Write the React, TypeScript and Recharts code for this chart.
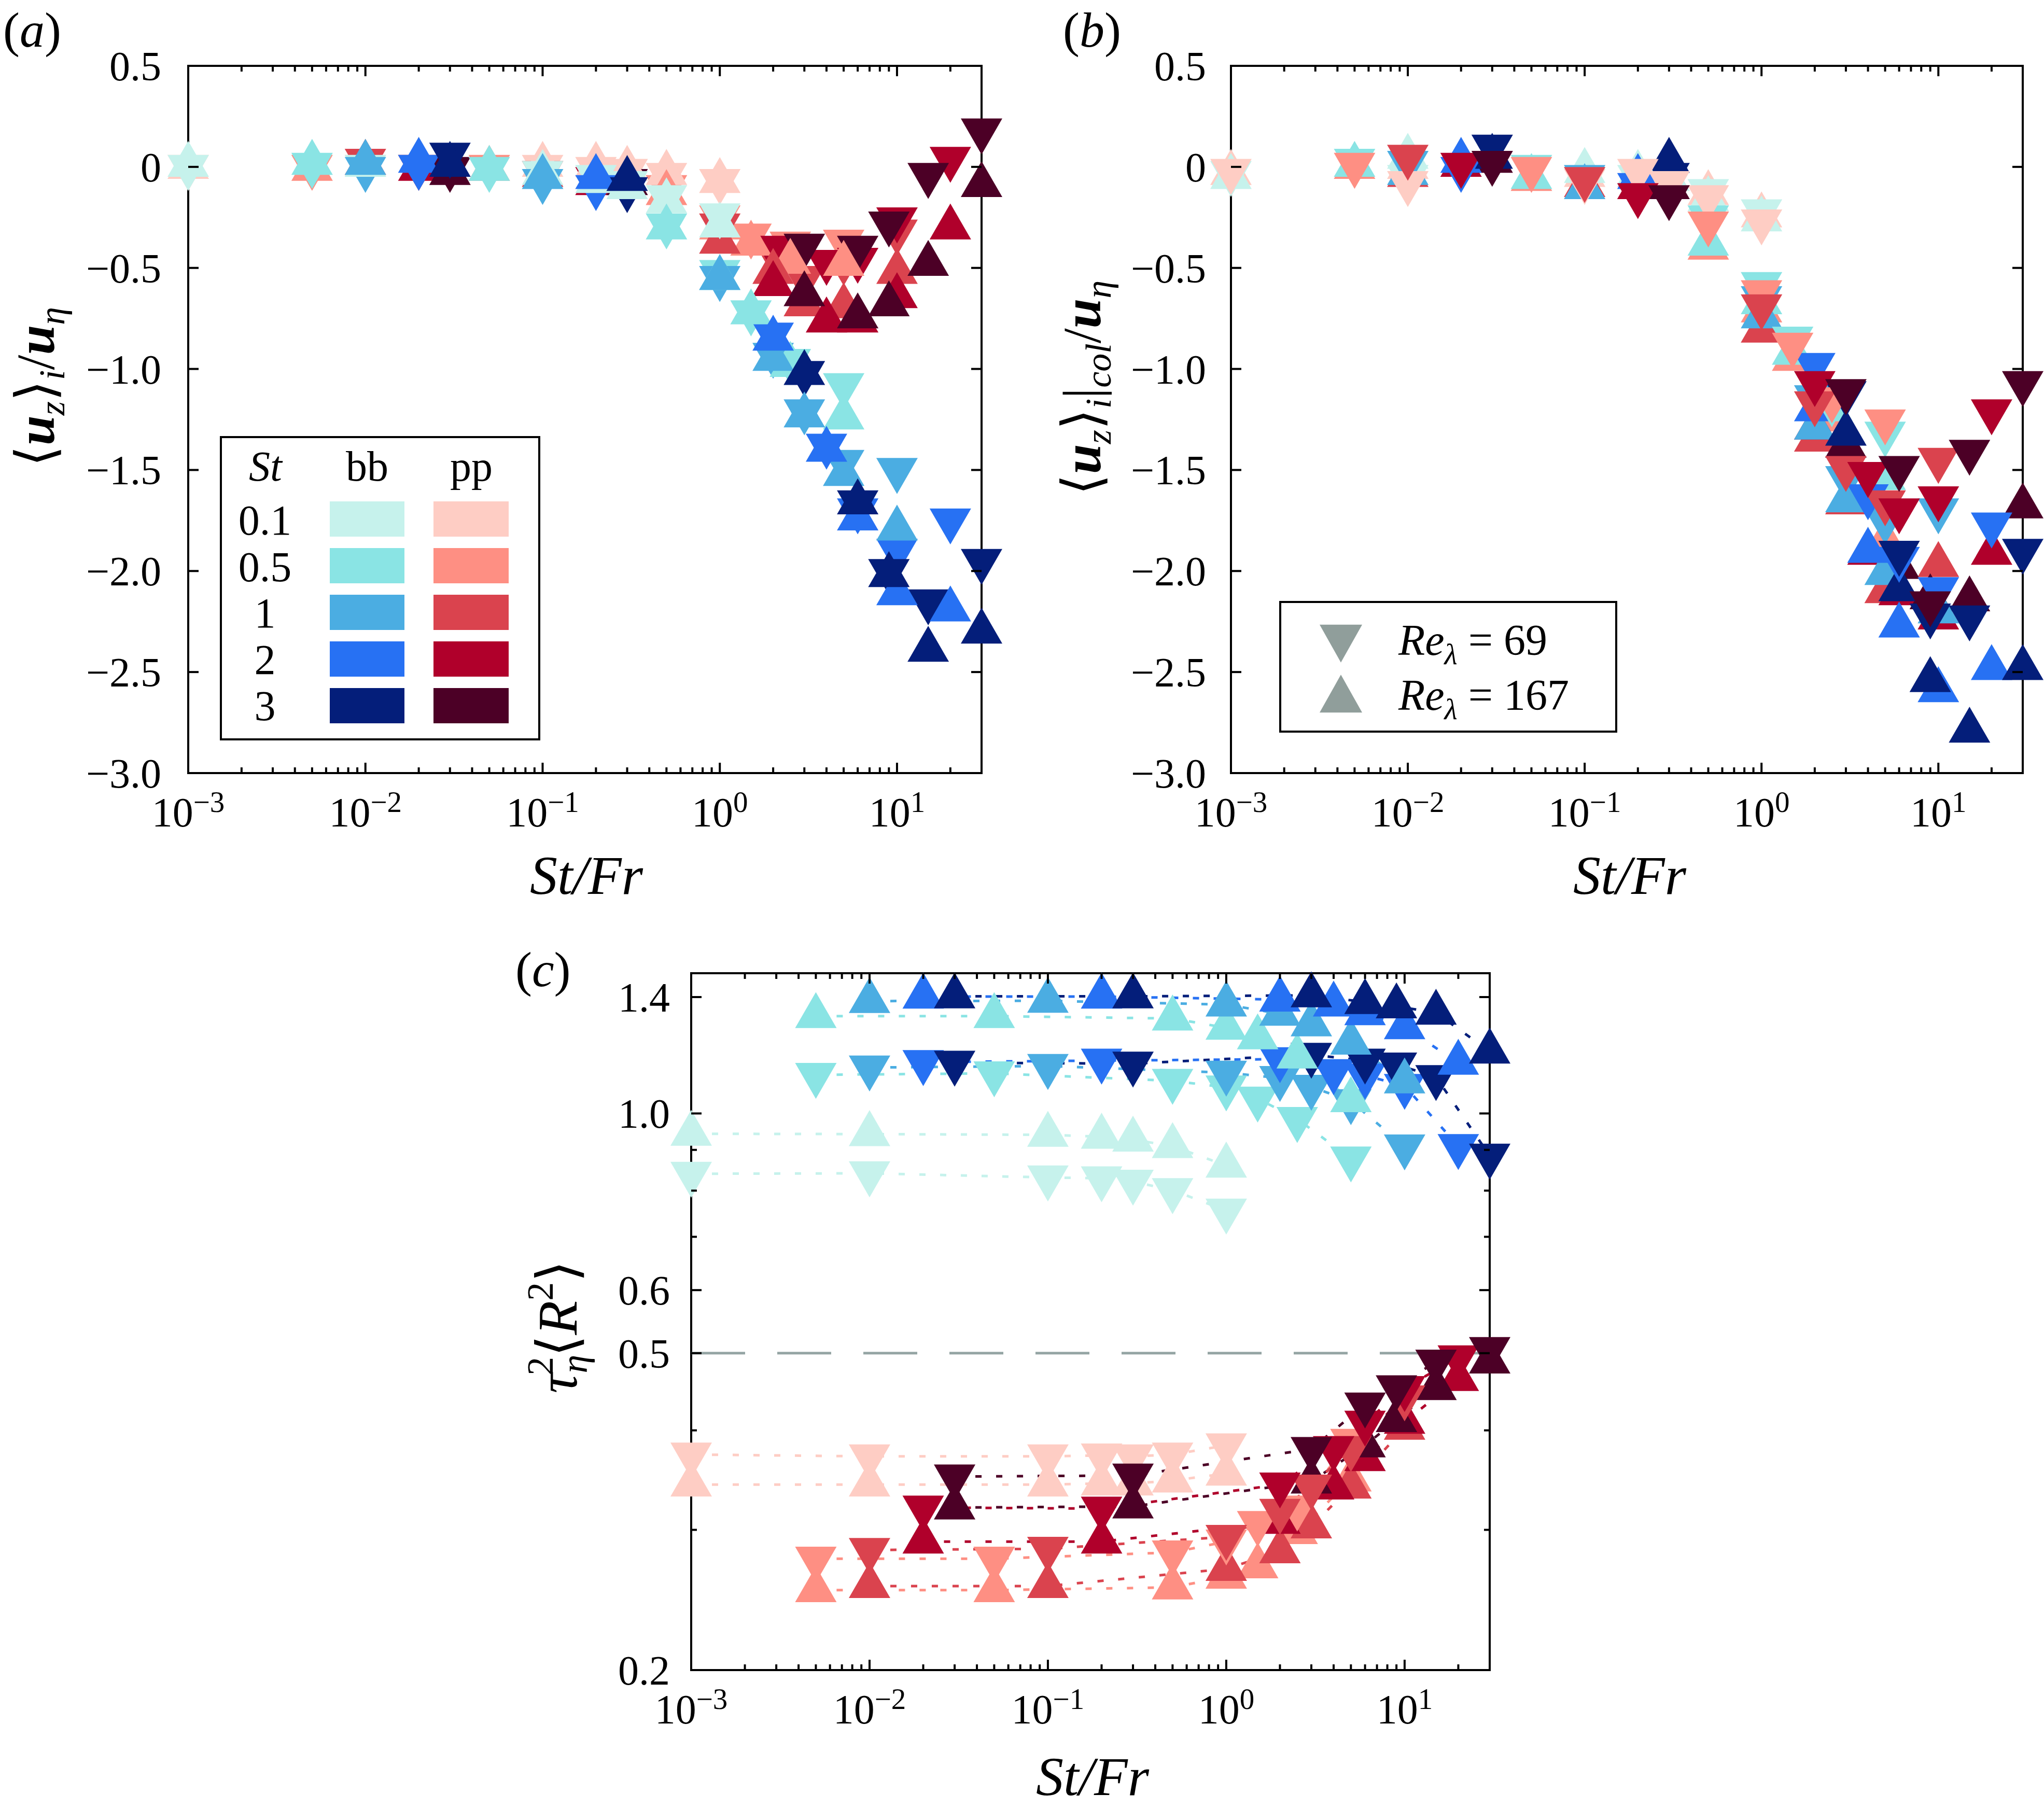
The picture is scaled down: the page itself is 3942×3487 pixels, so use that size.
import React from 'react';
import { ScatterChart, Scatter, XAxis, YAxis, ReferenceArea, ReferenceLine } from 'recharts';

const FONT = '"Liberation Serif", "Times New Roman", serif';

// ---------- categories / colours ----------
const ST_LABELS = ['0.1', '0.5', '1', '2', '3'];
const BB_COLORS = ['#C6F2EC', '#8AE4E4', '#4BADE2', '#2771F3', '#041E7A'];
const PP_COLORS = ['#FECDC4', '#FE8F83', '#DA434E', '#B0002B', '#4C0026'];
const GRAY = '#909E9B';

// St/Fr values for each St (Fr = 100, 10, 1, 0.5, 1/3, 0.2, 0.1)
const X_ST01 = [0.001, 0.01, 0.1, 0.2, 0.3, 0.5, 1];
const X_ST05 = [0.005, 0.05, 0.5, 1, 1.5, 2.5, 5];
const X_ST1 = [0.01, 0.1, 1, 2, 3, 5, 10];
const X_ST2 = [0.02, 0.2, 2, 4, 6, 10, 20];
const X_ST3 = [0.03, 0.3, 3, 6, 9, 15, 30];

// ---------- panel (a): <u_z>_i / u_eta ----------
const A_BB69_ST01 = [0.0, 0.0, -0.03, -0.05, -0.08, -0.15, -0.24];
const A_BB167_ST01 = [0.01, 0.01, -0.03, -0.07, -0.1, -0.17, -0.29];
const A_PP69_ST01 = [0.0, 0.0, 0.0, -0.01, -0.02, -0.04, -0.07];
const A_PP167_ST01 = [0.0, 0.01, 0.01, 0.01, -0.01, -0.03, -0.07];
const A_BB69_ST05 = [0.01, -0.01, -0.29, -0.52, -0.72, -0.96, -1.08];
const A_BB167_ST05 = [0.02, -0.01, -0.3, -0.55, -0.72, -0.98, -1.24];
const A_PP69_ST05 = [0.0, 0.0, -0.1, -0.25, -0.34, -0.38, -0.37];
const A_PP167_ST05 = [-0.01, -0.01, -0.13, -0.3, -0.38, -0.47, -0.48];
const A_BB69_ST1 = [-0.01, -0.07, -0.55, -0.93, -1.21, -1.46, -1.5];
const A_BB167_ST1 = [0.02, -0.05, -0.55, -0.95, -1.23, -1.52, -1.79];
const A_PP69_ST1 = [0.03, -0.03, -0.29, -0.42, -0.55, -0.47, -0.32];
const A_PP167_ST1 = [0.02, -0.04, -0.37, -0.52, -0.68, -0.69, -0.52];
const A_BB69_ST2 = [0.0, -0.1, -0.83, -1.38, -1.7, -1.9, -1.75];
const A_BB167_ST2 = [0.03, -0.05, -0.85, -1.4, -1.74, -2.11, -2.19];
const A_PP69_ST2 = [0.0, -0.06, -0.4, -0.47, -0.46, -0.26, 0.04];
const A_PP167_ST2 = [-0.01, -0.08, -0.58, -0.76, -0.76, -0.64, -0.3];
const A_BB69_ST3 = [0.06, -0.11, -1.02, -1.66, -2.0, -2.15, -1.95];
const A_BB167_ST3 = [0.01, -0.06, -1.02, -1.66, -2.02, -2.39, -2.3];
const A_PP69_ST3 = [-0.01, -0.07, -0.39, -0.4, -0.28, -0.04, 0.18];
const A_PP167_ST3 = [-0.03, -0.08, -0.63, -0.74, -0.68, -0.48, -0.09];

// ---------- panel (b): <u_z>_i|col / u_eta ----------
const B_BB69_ST01 = [-0.03, -0.05, -0.06, -0.05, -0.08, -0.12, -0.22];
const B_BB167_ST01 = [-0.05, 0.05, -0.02, -0.03, -0.06, -0.16, -0.26];
const B_PP69_ST01 = [-0.02, -0.08, -0.07, -0.02, -0.08, -0.15, -0.27];
const B_PP167_ST01 = [-0.03, 0.0, -0.04, -0.04, -0.06, -0.13, -0.24];
const B_BB69_ST05 = [0.03, 0.0, -0.25, -0.58, -0.85, -1.17, -1.32];
const B_BB167_ST05 = [0.01, -0.05, -0.38, -0.67, -0.92, -1.2, -1.54];
const B_PP69_ST05 = [0.01, -0.01, -0.28, -0.62, -0.88, -1.15, -1.26];
const B_PP167_ST05 = [0.0, -0.06, -0.4, -0.71, -0.95, -1.25, -1.85];
const B_BB69_ST1 = [0.02, -0.05, -0.65, -1.14, -1.54, -1.75, -1.7];
const B_BB167_ST1 = [-0.03, -0.1, -0.74, -1.29, -1.65, -2.01, -2.2];
const B_PP69_ST1 = [0.05, -0.06, -0.69, -1.17, -1.49, -1.66, -1.45];
const B_PP167_ST1 = [-0.04, -0.09, -0.81, -1.35, -1.66, -2.1, -1.97];
const B_BB69_ST2 = [-0.01, -0.09, -0.98, -1.63, -1.94, -2.09, -1.77];
const B_BB167_ST2 = [0.03, -0.05, -1.2, -1.9, -2.27, -2.59, -2.48];
const B_PP69_ST2 = [0.01, -0.14, -1.07, -1.52, -1.7, -1.64, -1.21];
const B_PP167_ST2 = [0.01, -0.1, -1.29, -1.91, -2.11, -2.23, -1.91];
const B_BB69_ST3 = [0.1, -0.04, -1.12, -1.91, -2.22, -2.23, -1.9];
const B_BB167_ST3 = [0.05, 0.03, -1.32, -2.09, -2.54, -2.79, -2.48];
const B_PP69_ST3 = [0.02, -0.15, -1.11, -1.49, -2.16, -1.41, -1.07];
const B_PP167_ST3 = [0.03, -0.1, -1.38, -1.98, -2.13, -2.14, -1.68];

// ---------- panel (c): tau_eta^2 <R^2> ----------
const C_BB69_ST01 = [0.84, 0.841, 0.831, 0.829, 0.821, 0.801, 0.755];
const C_BB167_ST01 = [0.943, 0.942, 0.94, 0.935, 0.927, 0.91, 0.86];
const C_PP69_ST01 = [0.373, 0.371, 0.371, 0.372, 0.371, 0.373, 0.383];
const C_PP167_ST01 = [0.342, 0.342, 0.342, 0.343, 0.343, 0.346, 0.353];
const C_BB69_ST05 = [1.118, 1.123, 1.099, 1.078, 1.044, 0.984, 0.878];
const C_BB167_ST05 = [1.325, 1.325, 1.316, 1.281, 1.246, 1.179, 1.039];
const C_PP69_ST05 = [0.276, 0.276, 0.281, 0.29, 0.306, 0.32, 0.388];
const C_PP167_ST05 = [0.252, 0.252, 0.254, 0.262, 0.27, 0.298, 0.347];
const C_BB69_ST1 = [1.142, 1.147, 1.125, 1.108, 1.08, 1.036, 0.909];
const C_BB167_ST1 = [1.384, 1.385, 1.37, 1.334, 1.294, 1.227, 1.097];
const C_PP69_ST1 = [0.283, 0.284, 0.294, 0.317, 0.34, 0.38, 0.44];
const C_PP167_ST1 = [0.255, 0.255, 0.268, 0.282, 0.303, 0.34, 0.403];
const C_BB69_ST2 = [1.16, 1.165, 1.17, 1.13, 1.116, 1.083, 0.91];
const C_BB167_ST2 = [1.402, 1.402, 1.39, 1.37, 1.336, 1.283, 1.158];
const C_PP69_ST2 = [0.32, 0.319, 0.342, 0.38, 0.409, 0.452, 0.494];
const C_PP167_ST2 = [0.29, 0.29, 0.307, 0.339, 0.368, 0.41, 0.464];
const C_BB69_ST3 = [1.158, 1.155, 1.185, 1.165, 1.152, 1.111, 0.885];
const C_BB167_ST3 = [1.403, 1.403, 1.407, 1.38, 1.363, 1.338, 1.196];
const C_PP69_ST3 = [0.35, 0.351, 0.379, 0.431, 0.453, 0.488, 0.506];
const C_PP167_ST3 = [0.32, 0.321, 0.345, 0.383, 0.412, 0.452, 0.488];

// ---------- ticks ----------
const X_TICKS = [
  0.001, 0.002, 0.003, 0.004, 0.005, 0.006, 0.007, 0.008, 0.009,
  0.01, 0.02, 0.03, 0.04, 0.05, 0.06, 0.07, 0.08, 0.09,
  0.1, 0.2, 0.3, 0.4, 0.5, 0.6, 0.7, 0.8, 0.9,
  1, 2, 3, 4, 5, 6, 7, 8, 9,
  10, 20,
];
const Y_TICKS_AB = [-3, -2.5, -2, -1.5, -1, -0.5, 0, 0.5];
const Y_TICKS_C = [0.2, 0.3, 0.4, 0.5, 0.6, 0.7, 0.8, 0.9, 1.0, 1.4];
const Y_LABELS_C = ['0.2', '0.5', '0.6', '1.0', '1.4'];

// ---------- grouped references (built from the arrays above) ----------
const X_BY_ST = [X_ST01, X_ST05, X_ST1, X_ST2, X_ST3];
const A_SETS = {
  bb69: [A_BB69_ST01, A_BB69_ST05, A_BB69_ST1, A_BB69_ST2, A_BB69_ST3],
  bb167: [A_BB167_ST01, A_BB167_ST05, A_BB167_ST1, A_BB167_ST2, A_BB167_ST3],
  pp69: [A_PP69_ST01, A_PP69_ST05, A_PP69_ST1, A_PP69_ST2, A_PP69_ST3],
  pp167: [A_PP167_ST01, A_PP167_ST05, A_PP167_ST1, A_PP167_ST2, A_PP167_ST3],
};
const B_SETS = {
  bb69: [B_BB69_ST01, B_BB69_ST05, B_BB69_ST1, B_BB69_ST2, B_BB69_ST3],
  bb167: [B_BB167_ST01, B_BB167_ST05, B_BB167_ST1, B_BB167_ST2, B_BB167_ST3],
  pp69: [B_PP69_ST01, B_PP69_ST05, B_PP69_ST1, B_PP69_ST2, B_PP69_ST3],
  pp167: [B_PP167_ST01, B_PP167_ST05, B_PP167_ST1, B_PP167_ST2, B_PP167_ST3],
};
const C_SETS = {
  bb69: [C_BB69_ST01, C_BB69_ST05, C_BB69_ST1, C_BB69_ST2, C_BB69_ST3],
  bb167: [C_BB167_ST01, C_BB167_ST05, C_BB167_ST1, C_BB167_ST2, C_BB167_ST3],
  pp69: [C_PP69_ST01, C_PP69_ST05, C_PP69_ST1, C_PP69_ST2, C_PP69_ST3],
  pp167: [C_PP167_ST01, C_PP167_ST05, C_PP167_ST1, C_PP167_ST2, C_PP167_ST3],
};

type Key = 'bb69' | 'bb167' | 'pp69' | 'pp167';
type Series = { id: string; color: string; up: boolean; data: { x: number; y: number }[] };

function buildSeries(sets: Record<Key, number[][]>, order: Key[]): Series[] {
  const out: Series[] = [];
  order.forEach((k) => {
    for (let s = 0; s < 5; s++) {
      const xs = X_BY_ST[s];
      const ys = sets[k][s];
      out.push({
        id: `${k}-${s}`,
        color: k.startsWith('bb') ? BB_COLORS[s] : PP_COLORS[s],
        up: k.endsWith('167'),
        data: xs.map((x, i) => ({ x, y: ys[i] })),
      });
    }
  });
  return out;
}

// ---------- marker ----------
const SIDE = 80;
const TH = 69.3;
function triPoints(cx: number, cy: number, up: boolean, s = SIDE, h = TH) {
  return up
    ? `${cx},${cy - (2 * h) / 3} ${cx - s / 2},${cy + h / 3} ${cx + s / 2},${cy + h / 3}`
    : `${cx},${cy + (2 * h) / 3} ${cx - s / 2},${cy - h / 3} ${cx + s / 2},${cy - h / 3}`;
}
const triShape = (color: string, up: boolean) => (p: any) => {
  if (p == null || p.cx == null || p.cy == null) return <g />;
  return <polygon points={triPoints(p.cx, p.cy, up)} fill={color} />;
};
const emptyShape = () => <g />;

// ---------- ticks ----------
const MINUS = '\u2212';
const TICK_FS = 80;

const isDecade = (v: number) => {
  const lg = Math.log10(v);
  return Math.abs(lg - Math.round(lg)) < 1e-9;
};

const makeXTick = (plotH: number) => (props: any) => {
  const { x, y, payload } = props;
  const v = payload.value;
  const major = isDecade(v);
  const len = major ? 20 : 11;
  const top = y - plotH;
  const e = Math.round(Math.log10(v));
  const eStr = e < 0 ? MINUS + String(-e) : String(e);
  return (
    <g>
      <line x1={x} y1={y} x2={x} y2={y - len} stroke="#000" strokeWidth={4} />
      <line x1={x} y1={top} x2={x} y2={top + len} stroke="#000" strokeWidth={4} />
      {major && (
        <text x={x} y={y + 103} textAnchor="middle" fontFamily={FONT} fontSize={TICK_FS} fill="#000">
          10
          <tspan dy={-28} fontSize={57}>
            {eStr}
          </tspan>
        </text>
      )}
    </g>
  );
};

const fmtAB = (v: number) => {
  if (v === 0) return '0';
  const s = Math.abs(v).toFixed(1);
  return v < 0 ? MINUS + s : s;
};

const makeYTickAB = (plotW: number, gap: number) => (props: any) => {
  const { x, y, payload } = props;
  const len = 20;
  return (
    <g>
      <line x1={x} y1={y} x2={x + len} y2={y} stroke="#000" strokeWidth={4} />
      <line x1={x + plotW - len} y1={y} x2={x + plotW} y2={y} stroke="#000" strokeWidth={4} />
      <text x={x - gap} y={y + 28} textAnchor="end" fontFamily={FONT} fontSize={TICK_FS} fill="#000">
        {fmtAB(payload.value)}
      </text>
    </g>
  );
};

const makeYTickC = (plotW: number, gap: number) => (props: any) => {
  const { x, y, payload } = props;
  const v = payload.value;
  const lab = v === 1 ? '1.0' : String(v);
  const major = Y_LABELS_C.indexOf(lab) >= 0;
  const len = major ? 20 : 11;
  return (
    <g>
      <line x1={x} y1={y} x2={x + len} y2={y} stroke="#000" strokeWidth={4} />
      <line x1={x + plotW - len} y1={y} x2={x + plotW} y2={y} stroke="#000" strokeWidth={4} />
      {major && (
        <text x={x - gap} y={y + 28} textAnchor="end" fontFamily={FONT} fontSize={TICK_FS} fill="#000">
          {lab}
        </text>
      )}
    </g>
  );
};

// ---------- panel component ----------
type PanelProps = {
  left: number;
  top: number;
  width: number;
  height: number;
  margin: { top: number; right: number; bottom: number; left: number };
  series: Series[];
  yLog?: boolean;
  yDomain: [number, number];
  yTicks: number[];
  yTick: (p: any) => any;
  withLines?: boolean;
  refY?: number;
};

const Y_AXIS_W = 300;
const X_AXIS_H = 200;

function Panel(p: PanelProps) {
  const plotH = p.height - p.margin.top - p.margin.bottom - X_AXIS_H;
  return (
    <div style={{ position: 'absolute', left: p.left, top: p.top, width: p.width, height: p.height }}>
      <ScatterChart width={p.width} height={p.height} margin={p.margin}>
        <XAxis
          type="number"
          dataKey="x"
          scale="log"
          domain={[0.001, 30]}
          ticks={X_TICKS}
          interval={0}
          tickSize={0}
          tickMargin={0}
          tickLine={false}
          axisLine={false}
          height={X_AXIS_H}
          tick={makeXTick(plotH)}
        />
        <YAxis
          type="number"
          dataKey="y"
          scale={p.yLog ? 'log' : 'linear'}
          domain={p.yDomain}
          ticks={p.yTicks}
          interval={0}
          tickSize={0}
          tickMargin={0}
          tickLine={false}
          axisLine={false}
          width={Y_AXIS_W}
          tick={p.yTick}
        />
        <ReferenceArea
          x1={0.001}
          x2={30}
          y1={p.yDomain[0]}
          y2={p.yDomain[1]}
          fill="none"
          fillOpacity={0}
          stroke="#000"
          strokeWidth={4}
        />
        {p.refY != null && (
          <ReferenceLine y={p.refY} stroke="#95A5A4" strokeWidth={5} strokeDasharray="104 62" />
        )}
        {p.withLines &&
          p.series.map((s) => (
            <Scatter
              key={'line-' + s.id}
              data={s.data}
              fill={s.color}
              isAnimationActive={false}
              line={{ stroke: s.color, strokeWidth: 5, strokeDasharray: '12 28' }}
              lineType="joint"
              shape={emptyShape}
            />
          ))}
        {p.series.map((s) => (
          <Scatter
            key={'pts-' + s.id}
            data={s.data}
            fill={s.color}
            isAnimationActive={false}
            shape={triShape(s.color, s.up)}
          />
        ))}
      </ScatterChart>
    </div>
  );
}

// ---------- overlay texts ----------
const SUB = 20;
function Overlay() {
  const T = { fontFamily: FONT, fill: '#000' } as const;
  return (
    <svg
      width={3942}
      height={3487}
      style={{ position: 'absolute', left: 0, top: 0, pointerEvents: 'none' }}
    >
      {/* panel letters */}
      <text x={6} y={90} fontSize={96} {...T}>
        (<tspan fontStyle="italic">a</tspan>)
      </text>
      <text x={2050} y={90} fontSize={96} {...T}>
        (<tspan fontStyle="italic">b</tspan>)
      </text>
      <text x={994} y={1902} fontSize={96} {...T}>
        (<tspan fontStyle="italic">c</tspan>)
      </text>

      {/* x titles */}
      {[1131, 3143].map((cx) => (
        <text key={cx} x={cx} y={1724} textAnchor="middle" fontSize={106} fontStyle="italic" {...T}>
          St/Fr
        </text>
      ))}
      <text x={2107} y={3462} textAnchor="middle" fontSize={106} fontStyle="italic" {...T}>
        St/Fr
      </text>

      {/* y title (a) */}
      <text transform="translate(72,746) rotate(-90)" y={32} textAnchor="middle" fontSize={104} {...T}>
        ⟨<tspan fontStyle="italic" fontWeight="bold">u</tspan>
        <tspan fontStyle="italic" fontSize={70} dy={SUB}>z</tspan>
        <tspan dy={-SUB}>⟩</tspan>
        <tspan fontStyle="italic" fontSize={70} dy={SUB}>i</tspan>
        <tspan dy={-SUB}>/</tspan>
        <tspan fontStyle="italic" fontWeight="bold">u</tspan>
        <tspan fontStyle="italic" fontSize={70} dy={SUB}>η</tspan>
      </text>

      {/* y title (b) */}
      <text transform="translate(2090,748) rotate(-90)" y={32} textAnchor="middle" fontSize={104} {...T}>
        ⟨<tspan fontStyle="italic" fontWeight="bold">u</tspan>
        <tspan fontStyle="italic" fontSize={70} dy={SUB}>z</tspan>
        <tspan dy={-SUB}>⟩</tspan>
        <tspan fontStyle="italic" fontSize={70} dy={SUB}>i</tspan>
        <tspan dy={-SUB}>|</tspan>
        <tspan fontStyle="italic" fontSize={70} dy={SUB}>col</tspan>
        <tspan dy={-SUB}>/</tspan>
        <tspan fontStyle="italic" fontWeight="bold">u</tspan>
        <tspan fontStyle="italic" fontSize={70} dy={SUB}>η</tspan>
      </text>

      {/* y title (c) */}
      <text transform="translate(1078,2559) rotate(-90)" y={34} textAnchor="middle" fontSize={108} {...T}>
        <tspan fontStyle="italic">τ</tspan>
        <tspan fontStyle="italic" fontSize={72} dy={SUB}>η</tspan>
        <tspan fontSize={72} dx={-40} dy={-66}>2</tspan>
        <tspan dy={46}>⟨</tspan>
        <tspan fontStyle="italic">R</tspan>
        <tspan fontSize={72} dy={-46}>2</tspan>
        <tspan dy={46}>⟩</tspan>
      </text>

      {/* legend (a) */}
      <rect x={426} y={843} width={614} height={583} fill="#fff" stroke="#000" strokeWidth={4} />
      <text x={512} y={927} textAnchor="middle" fontSize={82} fontStyle="italic" {...T}>
        St
      </text>
      <text x={708} y={927} textAnchor="middle" fontSize={82} {...T}>
        bb
      </text>
      <text x={909} y={927} textAnchor="middle" fontSize={82} {...T}>
        pp
      </text>
      {ST_LABELS.map((lab, i) => (
        <g key={lab}>
          <text x={511} y={1031 + i * 89.5} textAnchor="middle" fontSize={82} {...T}>
            {lab}
          </text>
          <rect x={636} y={967 + i * 90} width={144} height={68} fill={BB_COLORS[i]} />
          <rect x={836} y={967 + i * 90} width={145} height={68} fill={PP_COLORS[i]} />
        </g>
      ))}

      {/* legend (b) */}
      <rect x={2469} y={1161} width={648} height={250} fill="#fff" stroke="#000" strokeWidth={4} />
      <polygon points={triPoints(2586, 1241 - 12, false, 82, 73)} fill={GRAY} />
      <polygon points={triPoints(2586, 1338 + 12, true, 82, 73)} fill={GRAY} />
      <text x={2697} y={1263} fontSize={84} {...T}>
        <tspan fontStyle="italic">Re</tspan>
        <tspan fontStyle="italic" fontSize={58} dy={18}>λ</tspan>
        <tspan dy={-18}> = 69</tspan>
      </text>
      <text x={2697} y={1369} fontSize={84} {...T}>
        <tspan fontStyle="italic">Re</tspan>
        <tspan fontStyle="italic" fontSize={58} dy={18}>λ</tspan>
        <tspan dy={-18}> = 167</tspan>
      </text>
    </svg>
  );
}

export default function App() {
  const seriesA = buildSeries(A_SETS, ['pp69', 'pp167', 'bb69', 'bb167']);
  const seriesB = buildSeries(B_SETS, ['pp167', 'bb167', 'bb69', 'pp69']);
  const seriesC = buildSeries(C_SETS, ['bb69', 'bb167', 'pp167', 'pp69']);

  const mA = { top: 127, right: 67, bottom: 109, left: 63 };
  const mB = { top: 127, right: 41, bottom: 109, left: 114 };
  const mC = { top: 77, right: 127, bottom: 66, left: 133 };
  const plotWA = 1960 - mA.left - mA.right - Y_AXIS_W;
  const plotWB = 1982 - mB.left - mB.right - Y_AXIS_W;
  const plotWC = 2100 - mC.left - mC.right - Y_AXIS_W;

  return (
    <div
      style={{
        position: 'absolute',
        left: 0,
        top: 0,
        width: 3942,
        height: 3487,
        background: '#fff',
        overflow: 'hidden',
      }}
    >
      <Panel
        left={0}
        top={0}
        width={1960}
        height={1800}
        margin={mA}
        series={seriesA}
        yDomain={[-3, 0.5]}
        yTicks={Y_TICKS_AB}
        yTick={makeYTickAB(plotWA, 52)}
      />
      <Panel
        left={1960}
        top={0}
        width={1982}
        height={1800}
        margin={mB}
        series={seriesB}
        yDomain={[-3, 0.5]}
        yTicks={Y_TICKS_AB}
        yTick={makeYTickAB(plotWB, 48)}
      />
      <Panel
        left={900}
        top={1800}
        width={2100}
        height={1687}
        margin={mC}
        series={seriesC}
        yLog
        yDomain={[0.2, 1.5]}
        yTicks={Y_TICKS_C}
        yTick={makeYTickC(plotWC, 41)}
        withLines
        refY={0.5}
      />
      <Overlay />
    </div>
  );
}
